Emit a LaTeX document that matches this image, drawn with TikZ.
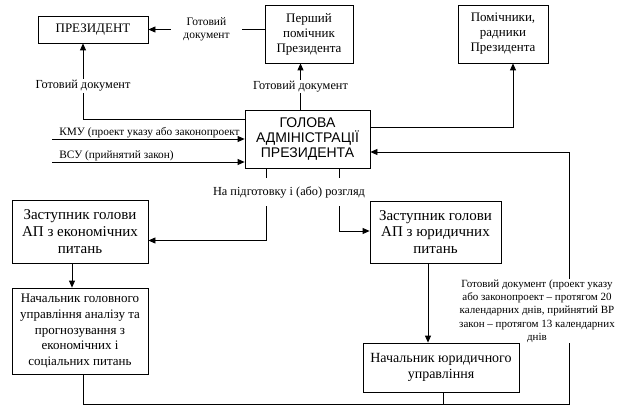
\documentclass[tikz,border=0pt]{standalone}
\usepackage{fontspec}
\setmainfont{Liberation Serif}
\newfontfamily\headfont{Liberation Sans}
\usetikzlibrary{arrows.meta, positioning, calc}

\begin{document}
\begin{tikzpicture}[
    x=1pt, y=-1pt,
    box/.style={rectangle, draw, fill=white, align=center, line width=0.8pt,
                font=\fontsize{13}{15}\selectfont, inner sep=1pt},
    lbl/.style={fill=white, align=center, inner sep=1pt,
                font=\fontsize{12.3}{15}\selectfont},
    note/.style={fill=white, align=center, inner sep=1pt,
                 font=\fontsize{11}{13.3}\selectfont},
    arr/.style={-{Triangle[length=7pt, width=6pt]}, line width=0.8pt},
    conn/.style={line width=0.8pt},
]
\useasboundingbox (0,0) rectangle (626,406);

% boxes
\node[box, minimum width=110pt, minimum height=27pt] (pres) at (93,29.5) {ПРЕЗИДЕНТ};
\node[box, minimum width=88pt, minimum height=58pt] (first) at (309,34) {Перший\\помічник\\Президента};
\node[box, minimum width=90pt, minimum height=58pt] (help) at (503,34) {Помічники,\\радники\\Президента};
\node[box, minimum width=125pt, minimum height=58pt, font=\headfont\fontsize{14}{15.3}\selectfont] (head) at (307.5,139) {ГОЛОВА\\АДМІНІСТРАЦІЇ\\ПРЕЗИДЕНТА};
\node[box, minimum width=136pt, minimum height=63pt, font=\fontsize{15}{16.7}\selectfont] (depE) at (80,231.5) {Заступник голови\\АП з економічних\\питань};
\node[box, minimum width=136pt, minimum height=86pt, font=\fontsize{13}{15.6}\selectfont] (chiefE) at (80,331) {Начальник головного\\управління аналізу та\\прогнозування з\\економічних і\\соціальних питань};
\node[box, minimum width=131pt, minimum height=62pt, font=\fontsize{15}{16.7}\selectfont] (depL) at (435.5,232) {Заступник голови\\АП з юридичних\\питань};
\node[box, minimum width=156pt, minimum height=49pt, font=\fontsize{14}{16.7}\selectfont] (chiefL) at (441,367.5) {Начальник юридичного\\управління};

% free ends
\coordinate (kmu) at (52,139);
\coordinate (vsu) at (52,162);
\coordinate (back) at (569,404);

% connectors
\draw[arr] (first.west |- pres.east) -- node[lbl, inner xsep=12pt, font=\fontsize{11.5}{13.5}\selectfont]{Готовий\\документ} (pres.east);
\draw[arr] ([yshift=19.5pt]head.west) -| node[lbl, pos=0.72]{Готовий документ} ([xshift=-10pt]pres.south);
\draw[arr] ([xshift=-7pt]head.north) -- node[lbl]{Готовий документ} ([xshift=-8.5pt]first.south);
\draw[arr] ([yshift=12pt]head.east) -| ([xshift=10pt]help.south);
\draw[arr] (kmu) -- node[at start, above right, xshift=6pt, inner sep=1pt, font=\fontsize{11.3}{13}\selectfont]{КМУ (проект указу або законопроект} (kmu -| head.west);
\draw[arr] (vsu) -- node[at start, above right, xshift=6pt, inner sep=1pt, font=\fontsize{11.3}{13}\selectfont]{ВСУ (прийнятий закон)} (vsu -| head.west);

\draw[arr] ([xshift=-41.5pt]head.south) |- ([yshift=-9pt]depE.east);
\draw[arr] ([xshift=31.5pt]head.south) |- ([yshift=1pt]depL.west);
\node[lbl, inner xsep=2pt, inner ysep=8.5pt] (route) at (289,192) {На підготовку і (або) розгляд};

\draw[arr] ([xshift=-8pt]depE.south) -- ([xshift=-8pt]chiefE.north);
\draw[arr] ([xshift=-7.5pt]depL.south) -- ([xshift=-13pt]chiefL.north);

\draw[arr] ([xshift=3pt]chiefE.south) |- (back) |- ([yshift=-13pt]head.east);
\draw[conn] ([xshift=2pt]chiefL.south) -- ++(0,12);
\node[note] (ready) at (537,311) {Готовий документ (проект указу\\або законопроект – протягом 20\\календарних днів, прийнятий ВР\\закон – протягом 13 календарних\\днів};

\end{tikzpicture}
\end{document}
